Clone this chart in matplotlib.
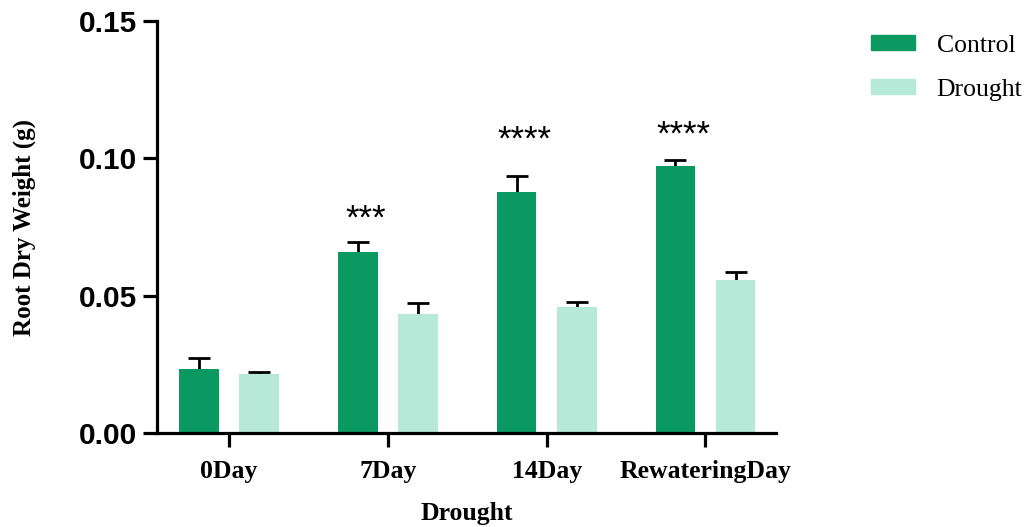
"""Root dry weight under drought, grouped bar chart."""

import matplotlib

matplotlib.use("Agg")
import matplotlib.pyplot as plt
import numpy as np
from matplotlib.patches import Patch

DAYS = ["0Day", "7Day", "14Day", "RewateringDay"]
CONTROL = [0.0233, 0.0659, 0.0878, 0.0972]
CONTROL_ERR = [0.0040, 0.0036, 0.0057, 0.0022]
DROUGHT = [0.0215, 0.0433, 0.0460, 0.0557]
DROUGHT_ERR = [0.0006, 0.0040, 0.0017, 0.0030]
STARS = ["", "***", "****", "****"]
STAR_Y = [None, 0.0780, 0.1068, 0.1085]

CONTROL_COLOR = "#0b9962"
DROUGHT_COLOR = "#b6e9d7"
SERIF = "Liberation Serif"
SANS = "Liberation Sans"

fig = plt.figure(figsize=(10.29, 5.27), dpi=100)
ax = fig.add_axes([0.1526, 0.178, 0.602, 0.782])

x = np.arange(len(DAYS))
width = 0.25
offset = 0.189

# error bars sit behind the bars, so only the upper half shows
for pos, vals, errs in [(x - offset, CONTROL, CONTROL_ERR),
                        (x + offset, DROUGHT, DROUGHT_ERR)]:
    ax.errorbar(pos, vals, yerr=errs, fmt="none", ecolor="black",
                elinewidth=2, capsize=8, capthick=2, zorder=1)

ax.bar(x - offset, CONTROL, width, color=CONTROL_COLOR, zorder=2)
ax.bar(x + offset, DROUGHT, width, color=DROUGHT_COLOR, zorder=2)

for xi, star, sy in zip(x, STARS, STAR_Y):
    if star:
        ax.text(xi - offset + 0.05, sy, star, ha="center", va="center",
                fontsize=25, family=SANS)

ax.set_xlim(-0.453, 3.447)
ax.set_ylim(0, 0.15)
ax.set_yticks([0, 0.05, 0.10, 0.15])
ax.set_yticklabels(["0.00", "0.05", "0.10", "0.15"], fontsize=21.5,
                   fontweight="bold", family=SANS)
ax.set_xticks(x)
ax.set_xticklabels(DAYS, fontsize=18.5, fontweight="bold", family=SERIF)

for side in ["top", "right"]:
    ax.spines[side].set_visible(False)
for side in ["left", "bottom"]:
    ax.spines[side].set_linewidth(2.3)
ax.tick_params(axis="both", direction="out", width=2.3, length=10)
ax.tick_params(axis="x", pad=9)
ax.tick_params(axis="y", pad=4)

ax.set_ylabel("Root Dry Weight (g)", fontsize=18, fontweight="bold",
              family=SERIF, labelpad=31)
ax.set_xlabel("Drought", fontsize=18.5, fontweight="bold", family=SERIF,
              labelpad=14)

handles = [Patch(color=CONTROL_COLOR), Patch(color=DROUGHT_COLOR)]
fig.legend(handles, ["Control", "Drought"], loc="upper left",
           bbox_to_anchor=(0.824, 0.978), frameon=False,
           prop={"family": SERIF, "size": 18.5}, handlelength=1.7,
           handleheight=0.55, handletextpad=0.85, labelspacing=0.85)

fig.savefig("out.png", dpi=100)
